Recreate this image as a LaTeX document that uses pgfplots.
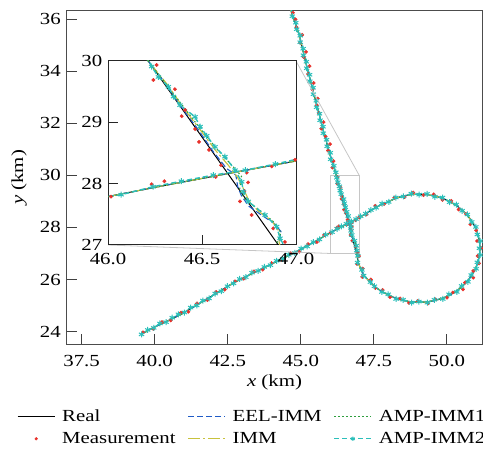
\documentclass[border=0pt]{standalone}
\usepackage{pgfplots}
\pgfplotsset{compat=1.18}
\usepackage{pgfplotstable}
\usepackage{fontspec}
\setmainfont{Liberation Serif}[FakeStretch=1.23]
\newcommand\mf{\fontsize{17}{20}\selectfont}

\definecolor{eelc}{HTML}{1F5BC6}
\definecolor{immc}{HTML}{C8C23C}
\definecolor{amp1c}{HTML}{2E9E3E}
\definecolor{amp2c}{HTML}{2BBFBA}
\definecolor{measc}{HTML}{E8302A}

% ---------- Real trajectory ----------
\pgfplotstableread{
x y
39.55 23.90
39.94 24.14
40.30 24.33
40.62 24.50
41.00 24.72
41.55 25.09
42.10 25.46
42.68 25.86
43.25 26.18
43.84 26.50
44.40 26.82
44.97 27.14
45.58 27.52
46.00 27.79
46.30 27.97
46.63 28.16
47.00 28.37
47.30 28.58
47.55 28.76
47.78 28.89
48.01 29.00
48.25 29.12
48.51 29.21
48.78 29.26
49.05 29.28
49.32 29.26
49.59 29.21
49.85 29.12
50.09 29.00
50.32 28.85
50.52 28.67
50.70 28.47
50.85 28.24
50.97 28.00
51.06 27.74
51.11 27.47
51.13 27.20
51.11 26.93
51.06 26.66
50.97 26.40
50.85 26.16
50.70 25.93
50.52 25.73
50.32 25.55
50.09 25.40
49.85 25.28
49.59 25.19
49.32 25.14
49.05 25.12
48.78 25.14
48.51 25.19
48.25 25.28
48.01 25.40
47.75 25.55
47.54 25.72
47.35 25.92
47.18 26.14
47.06 26.38
46.97 26.64
46.92 26.92
}\realA

\pgfplotstableread{
x y
46.92 26.92
46.906 27.00
46.214 30.00
}\realmid

\pgfplotstableread{
x y
46.214 30.00
46.00 30.80
45.80 31.60
45.50 32.90
45.20 34.20
44.95 35.40
44.70 36.20
44.62 36.50
}\realB

% ---------- estimator deviations near the crossing ----------
\pgfplotstableread{
x y
46.92 26.92
46.91 27.05
46.92 27.22
46.88 27.36
46.82 27.48
46.75 27.63
46.71 27.80
46.69 27.95
46.68 28.14
46.63 28.25
46.56 28.52
46.48 28.88
46.39 29.25
46.31 29.62
46.214 30.00
}\eelmid

\pgfplotstableread{
x y
46.92 26.92
46.91 27.05
46.91 27.22
46.87 27.40
46.80 27.55
46.75 27.72
46.72 27.92
46.69 28.10
46.64 28.30
46.57 28.55
46.49 28.88
46.40 29.24
46.32 29.60
46.214 30.00
}\immmid

\pgfplotstableread{
x y
46.92 26.92
46.90 27.04
46.92 27.20
46.88 27.38
46.81 27.56
46.73 27.74
46.70 27.90
46.71 28.12
46.65 28.33
46.58 28.56
46.49 28.90
46.41 29.22
46.31 29.62
46.214 30.00
}\ampmid

% ---------- AMP-IMM2 ----------
\pgfplotstableread{
x y
39.55 23.89
39.76 24.06
39.97 24.14
40.18 24.31
40.39 24.36
40.60 24.53
40.81 24.66
41.02 24.73
41.23 24.92
41.44 25.00
41.65 25.19
41.86 25.27
42.07 25.46
42.28 25.55
42.49 25.74
42.70 25.85
42.91 26.02
43.12 26.09
43.33 26.26
43.54 26.33
43.75 26.48
43.96 26.55
44.17 26.72
44.38 26.79
44.59 26.95
44.80 27.02
45.01 27.19
45.22 27.27
45.43 27.44
45.64 27.54
45.85 27.72
46.07 27.82
46.24 27.95
46.39 28.04
46.56 28.14
46.73 28.22
46.89 28.32
47.05 28.43
47.22 28.53
47.40 28.67
47.58 28.76
47.78 28.92
48.01 28.98
48.25 29.15
48.51 29.19
48.78 29.30
49.05 29.26
49.32 29.29
49.59 29.18
49.85 29.15
50.09 28.97
50.32 28.88
50.52 28.64
50.70 28.50
50.85 28.21
50.99 28.02
51.04 27.73
51.14 27.48
51.11 27.20
51.14 26.94
51.04 26.66
51.00 26.41
50.83 26.17
50.72 25.91
50.50 25.75
50.34 25.52
50.07 25.43
49.86 25.25
49.57 25.22
49.33 25.11
49.04 25.15
48.79 25.11
48.50 25.22
48.26 25.25
47.99 25.43
47.77 25.52
47.52 25.74
47.38 25.90
47.15 26.15
47.09 26.37
46.94 26.65
46.95 26.91
46.915 27.11
46.897 27.30
46.835 27.49
46.746 27.71
46.72 27.87
46.711 28.03
46.676 28.22
46.622 28.44
46.569 28.60
46.525 28.78
46.49 28.93
46.463 29.09
46.383 29.28
46.348 29.42
46.321 29.58
46.268 29.74
46.232 29.91
46.20 30.12
46.13 30.37
46.02 30.62
46.01 30.87
45.90 31.12
45.88 31.37
45.77 31.62
45.76 31.87
45.66 32.12
45.64 32.37
45.54 32.62
45.53 32.87
45.43 33.12
45.42 33.37
45.31 33.62
45.30 33.87
45.20 34.12
45.19 34.37
45.09 34.62
45.08 34.87
44.98 35.12
44.98 35.37
44.86 35.62
44.83 35.87
44.71 36.12
44.68 36.37
44.58 36.60
}\amptwo

% ---------- Measurements ----------
\pgfplotstableread{
x y
39.60 23.97
39.95 24.10
40.25 24.36
40.55 24.43
40.90 24.73
41.15 24.76
41.45 25.08
41.80 25.21
42.10 25.52
42.40 25.61
42.75 25.93
43.05 26.03
43.40 26.31
43.70 26.38
44.00 26.63
44.35 26.76
44.65 27.01
44.95 27.07
45.25 27.36
45.55 27.44
45.80 27.71
46.016 27.79
46.232 27.99
46.300 28.04
46.871 28.28
46.995 28.39
47.25 28.50
47.55 28.83
47.85 28.90
48.20 29.15
48.55 29.17
48.85 29.34
49.20 29.24
49.55 29.27
49.85 29.06
50.15 29.02
50.40 28.69
50.65 28.52
50.80 28.12
51.00 27.89
51.03 27.48
51.18 27.20
51.05 26.90
51.10 26.62
50.90 26.33
50.90 26.07
50.62 25.88
50.55 25.62
50.20 25.50
50.00 25.30
49.60 25.24
49.35 25.08
49.00 25.17
48.70 25.10
48.40 25.27
48.05 25.32
47.80 25.60
47.55 25.67
47.40 26.00
47.10 26.10
47.12 26.42
46.92 26.60
46.99 26.90
46.941 27.05
46.879 27.27
46.764 27.49
46.702 27.71
46.725 27.88
46.745 28.02
46.738 28.18
46.573 28.11
46.601 28.30
46.537 28.55
46.484 28.68
46.463 28.89
46.392 29.10
46.410 29.20
46.356 29.54
46.241 29.69
46.259 29.935
46.08 30.30
46.12 30.55
45.93 30.95
46.00 31.20
45.85 31.50
45.70 31.80
45.78 32.05
45.62 32.40
45.55 32.70
45.58 32.95
45.40 33.30
45.44 33.55
45.25 33.90
45.30 34.20
45.10 34.55
45.18 34.75
44.98 35.10
45.05 35.40
44.85 35.70
44.82 36.00
44.73 36.25
}\meas

\pgfplotsset{
  realst/.style={black, line width=1bp},
  eelst/.style={eelc, line width=1.1bp, dash pattern=on 6bp off 3bp},
  immst/.style={immc, line width=1.1bp, dash pattern=on 12bp off 3bp on 2bp off 3bp},
  amp1st/.style={amp1c, line width=1.1bp, dash pattern=on 1.5bp off 2.5bp},
  amp2st/.style={amp2c, line width=1.4bp, dash pattern=on 5bp off 3bp, mark=asterisk, mark size=3bp, mark options={solid, line width=1bp}},
  measst/.style={only marks, mark=*, mark size=1.7bp, color=measc, mark options={draw=measc, fill=measc}},
}

\newcommand\drawall{%
  \addplot[realst, forget plot] table {\realA};
  \addplot[realst, forget plot] table {\realmid};
  \addplot[realst, forget plot] table {\realB};
  \addplot[measst, forget plot] table {\meas};
  \addplot[eelst, forget plot] table {\realA};
  \addplot[eelst, forget plot] table {\eelmid};
  \addplot[eelst, forget plot] table {\realB};
  \addplot[immst, forget plot] table {\realA};
  \addplot[immst, forget plot] table {\immmid};
  \addplot[immst, forget plot] table {\realB};
  \addplot[amp1st, forget plot] table {\realA};
  \addplot[amp1st, forget plot] table {\ampmid};
  \addplot[amp1st, forget plot] table {\realB};
  \addplot[amp2st, forget plot] table {\amptwo};
}

\begin{document}
\begin{tikzpicture}
\begin{axis}[
  name=main, at={(0,0)}, anchor=south west,
  scale only axis, width=415bp, height=333bp,
  xmin=37, xmax=51.2, ymin=23.52, ymax=36.32,
  xtick={37.5,40,42.5,45,47.5,50}, ytick={24,26,28,30,32,34,36},
  tick align=inside, tick pos=left, major tick length=10bp,
  axis line style={black!70, line width=1bp},
  tick style={black!75, line width=1bp},
  /pgf/number format/assume math mode=true,
  tick label style={font=\mf},
  xticklabel style={yshift=-8bp, /pgf/number format/fixed, /pgf/number format/fixed zerofill, /pgf/number format/precision=1},
  yticklabel style={xshift=-2.7bp},
  xlabel={\textit{x} (km)}, ylabel={\textit{y} (km)},
  every axis x label/.style={at={(axis description cs:0.5,0)}, anchor=north, yshift=-27bp, font=\mf},
  every axis y label/.style={at={(axis description cs:0,0.5)}, xshift=-48bp, rotate=90, anchor=center, font=\mf},
  legend columns=3, legend cell align=left,
  legend style={at={(0,0)}, anchor=north west, xshift=-50bp, yshift=-63.5bp,
    draw=none, fill=none, inner sep=0pt, font=\mf, row sep=5.5bp,
    /tikz/every odd column/.append style={column sep=5bp},
    /tikz/every even column/.append style={column sep=10bp}},
  legend image code/.code={\draw[mark repeat=2,mark phase=2,#1] plot coordinates {(0bp,0bp) (18.5bp,0bp) (37bp,0bp)};},
]
\draw[gray!45, line width=0.8bp] (axis cs:46,27) rectangle (axis cs:47,30);
\coordinate (rb) at (axis cs:46,27);
\coordinate (rt) at (axis cs:47,30);
\drawall
\addlegendimage{realst}
\addlegendentry{Real}
\addlegendimage{eelst}
\addlegendentry{EEL-IMM}
\addlegendimage{amp1st}
\addlegendentry{AMP-IMM1}
\addlegendimage{measst, mark size=1.4bp}
\addlegendentry{Measurement}
\addlegendimage{immst}
\addlegendentry{IMM}
\addlegendimage{amp2st, line width=1.1bp, mark size=2.2bp}
\addlegendentry{AMP-IMM2}
\end{axis}

\draw[gray!45, line width=0.8bp] (41bp,99bp) -- (rb);
\draw[gray!45, line width=0.8bp] (229bp,283bp) -- (rt);

\begin{axis}[
  name=ins, at={(41bp,99bp)}, anchor=south west,
  scale only axis, width=188bp, height=184bp,
  xmin=46, xmax=47, ymin=27, ymax=30,
  xtick={46,46.5,47}, ytick={27,28,29,30},
  tick align=inside, tick pos=left, major tick length=10bp,
  axis background/.style={fill=white},
  axis line style={black!85, line width=1bp},
  tick style={black!85, line width=1bp},
  /pgf/number format/assume math mode=true,
  tick label style={font=\mf},
  xticklabel style={yshift=-4.3bp, /pgf/number format/fixed, /pgf/number format/fixed zerofill, /pgf/number format/precision=1},
  yticklabel style={xshift=-2.3bp},
]
\drawall
\end{axis}

\pgfresetboundingbox
\path[use as bounding box] (-67bp,-106bp) rectangle (416bp,344bp);
\end{tikzpicture}
\end{document}
